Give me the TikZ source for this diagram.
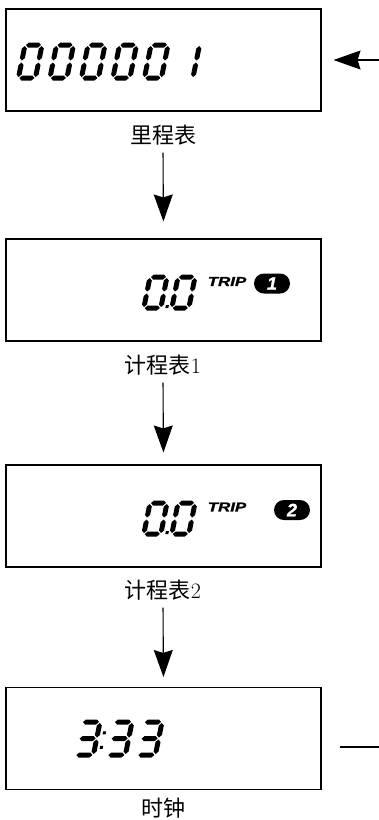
\documentclass[tikz,border=0pt]{standalone}
\usepackage{fontspec}
\newfontfamily\cjk{Noto Sans CJK SC}
\newfontfamily\lib{Liberation Sans}[FakeBold=1.2]
\usetikzlibrary{arrows.meta}
\def\segt{2.5}
\def\segg{1.0}
\newcommand\hsg[3]{\fill ({#1},{#3}) -- ({#1+\segt},{#3-\segt}) -- ({#2-\segt},{#3-\segt}) -- ({#2},{#3}) -- ({#2-\segt},{#3+\segt}) -- ({#1+\segt},{#3+\segt}) -- cycle;}
\newcommand\vsg[3]{\fill ({#1},{#2}) -- ({#1+\segt},{#2+\segt}) -- ({#1+\segt},{#3-\segt}) -- ({#1},{#3}) -- ({#1-\segt},{#3-\segt}) -- ({#1-\segt},{#2+\segt}) -- cycle;}
\newcommand\sgA{\hsg{\segg}{\dW-\segg}{0}}
\newcommand\sgB{\vsg{\dW}{\segg}{\dH/2-\segg}}
\newcommand\sgC{\vsg{\dW}{\dH/2+\segg}{\dH-\segg}}
\newcommand\sgD{\hsg{\segg}{\dW-\segg}{\dH}}
\newcommand\sgE{\vsg{0}{\dH/2+\segg}{\dH-\segg}}
\newcommand\sgF{\vsg{0}{\segg}{\dH/2-\segg}}
\newcommand\sgG{\hsg{\segg}{\dW-\segg}{\dH/2}}
\newcommand\dzero{\sgA\sgB\sgC\sgD\sgE\sgF}
\newcommand\done{\sgB\sgC}
\newcommand\dthree{\sgA\sgB\sgC\sgD\sgG}
\newcommand\digat[2]{\begin{scope}[shift={#1},xslant=0.2]#2\end{scope}}
\begin{document}
\begin{tikzpicture}[x=1pt,y=-1pt,
  box/.style={draw,line width=1.1pt,minimum width=315pt,minimum height=102pt,inner sep=0pt},
  lab/.style={font=\cjk\fontsize{22}{22}\selectfont,inner sep=0pt,text height=17pt,text depth=5pt},
  arr/.style={line width=1.1pt,-{Stealth[length=27pt,width=19pt,inset=3pt]}},
  trip/.style={font=\lib\bfseries\itshape\fontsize{13}{13}\selectfont,inner sep=0pt},
  badge/.style={fill=black,text=white,rounded corners=10pt,minimum width=36pt,minimum height=20pt,inner sep=0pt,font=\lib\bfseries\itshape\fontsize{18}{18}\selectfont}]
\useasboundingbox (0,0) rectangle (379,820);
% boxes
\node[box] (b1) at (163.5,60) {};
\node[box] (b2) at (163.5,290) {};
\node[box] (b3) at (163.5,516) {};
\node[box] (b4) at (163.5,738.5) {};
% labels
\node[lab] (l1) at (163,137.5) {里程表};
\node[lab] (l2) at (163,367.5) {计程表\fontspec{Latin Modern Roman}\fontsize{22}{22}\selectfont 1};
\node[lab] (l3) at (163,592.5) {计程表\fontspec{Latin Modern Roman}\fontsize{22}{22}\selectfont 2};
\node[lab] (l4) at (163,810.5) {时钟};
% connectors
\draw[arr,shorten <=4pt,shorten >=17pt] (l1.south) -- (b2.north);
\draw[arr,shorten <=4pt,shorten >=12pt] (l2.south) -- (b3.north);
\draw[arr,shorten <=4pt,shorten >=10pt] (l3.south) -- (b4.north);
\coordinate (in1) at (379,60);
\draw[arr,shorten >=12pt] (in1) -- (b1.east);
\coordinate (out4) at (379,747);
\draw[line width=1.1pt,shorten <=18pt] (b4.east |- out4) -- (out4);
% odometer digits
\def\dW{17}\def\dH{33}
\foreach \i in {0,...,4}{\digat{(25+31.5*\i,45)}{\dzero}}
\digat{(182.5,45)}{\done}
% trip 1
\def\dW{17}\def\dH{31}
\digat{(150,277)}{\dzero\fill (\dW+4.5,\dH-3) rectangle ++(3,3);}
\digat{(178,277)}{\dzero}
\node[trip] (t1) at (227,281.5) {\scalebox{1.3}[1]{TRIP}};
\node[badge] (k1) at (272,283.5) {1};
% trip 2
\digat{(150,503)}{\dzero\fill (\dW+4.5,\dH-3) rectangle ++(3,3);}
\digat{(178,503)}{\dzero}
\node[trip] (t2) at (227,507) {\scalebox{1.3}[1]{TRIP}};
\node[badge] (k2) at (292,510) {2};
% clock
\def\dW{18}\def\dH{33}
\digat{(82,722)}{\dthree\fill (\dW+5,\dH*0.28) rectangle ++(3,3);\fill (\dW+5,\dH*0.72) rectangle ++(3,3);}
\digat{(114,722)}{\dthree}
\digat{(144,722)}{\dthree}
\end{tikzpicture}
\end{document}
